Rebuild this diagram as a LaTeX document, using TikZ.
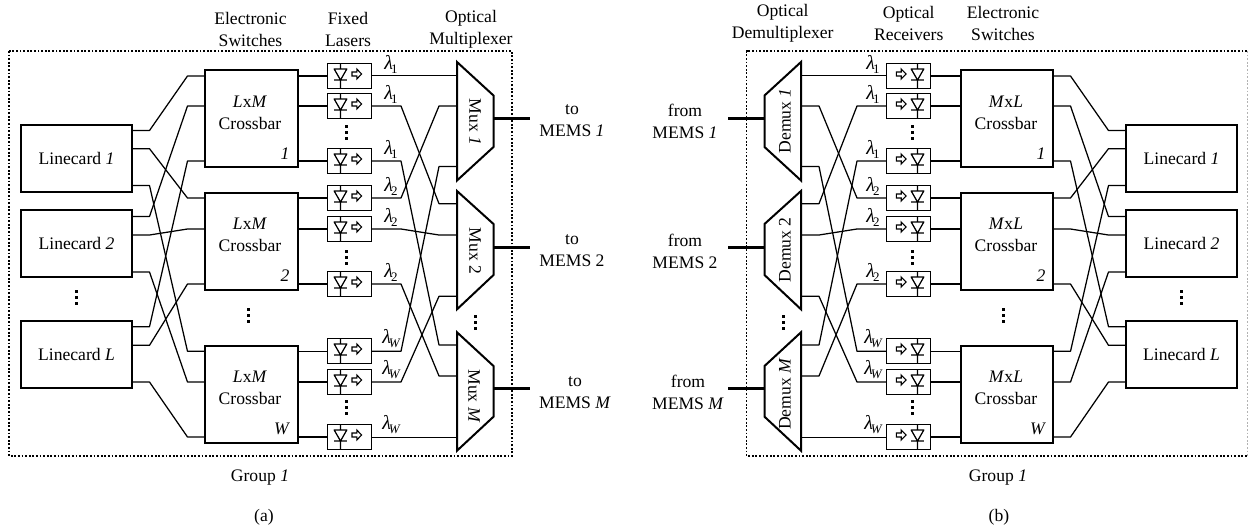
\documentclass[tikz,border=0pt]{standalone}
\usepackage{fontspec}
\setmainfont{Liberation Serif}
\tikzset{
  every node/.style={font=\fontsize{17.6}{22}\selectfont, inner sep=0pt, outer sep=0pt},
  txt/.style={align=center},
  wire/.style={line width=1.25pt, line join=round},
  cardbox/.style={draw, line width=2pt, minimum width=111pt, minimum height=67pt},
  xbarbox/.style={draw, line width=2pt, minimum width=92.5pt, minimum height=97.5pt},
  laserbox/.style={draw, line width=1.25pt, minimum width=44pt, minimum height=24.5pt},
  muxport/.style={minimum width=36.5pt, minimum height=118.5pt},
  muxshape/.style={draw, line width=2pt, line join=miter},
  stub/.style={line width=3pt},
  grp/.style={line width=1.8pt, dash pattern=on 1.8pt off 1.8pt},
  vdots/.style={line width=3pt, dash pattern=on 3pt off 3pt},
  lam/.style={font=\fontsize{20}{22}\selectfont}
}
\newcommand{\lamb}[1]{{\itshape λ}\kern-2pt\raisebox{-4pt}{\fontsize{13}{13}\selectfont #1}}
\newcommand{\lsr}[3]{% name, y, lambda subscript
  \node[laserbox] (#1) at (349.5,#2) {};
  \begin{scope}[shift={(340.5,#2)}]
    \draw[wire] (0,-12) -- (0,-7) (-6.3,-7) -- (6.3,-7) -- (0,4) -- cycle (-6.3,4) -- (6.3,4) (0,4) -- (0,12);
    \draw[line width=1.1pt] (16.3,-2) ++({\adir*-4.8},-2) -- ++({\adir*4.8},0) -- ++(0,-3) -- ++({\adir*4.8},5) -- ++({\adir*-4.8},5) -- ++(0,-3) -- ++({\adir*-4.8},0) -- cycle;
  \end{scope}
  \node[lam] at (\lamx,{#2-12}) {\lamb{#3}};
}
\newcommand{\wa}[4]{\draw[wire] (#1.\fw |- 0,#2) -- (149.5,#2) -- (187.5,#4) -- (#3.\bw |- 0,#4);}
\newcommand{\wb}[4]{\draw[wire] (#1.\fw |- 0,#2) -- (401,#2) -- (439,#4) -- (#3.\bw |- 0,#4);}
\newcommand{\mx}[6]{% name, top, bottom, right top, right bottom, stub y
  \node[muxport] (#1) at (475.25,{(#2+#3)/2}) {};
  \draw[muxshape] (457,#2) -- (493.5,#4) -- (493.5,#5) -- (457,#3) -- cycle;
  \coordinate (#1t) at (530,#6);
  \draw[stub] (#1.\fw |- 0,#6) -- (#1t);
}
\newcommand{\halfdiagram}[1]{%
  \node[cardbox] (#1c1) at (76.5,158.5) {\cardA};
  \node[cardbox] (#1c2) at (76.5,243.5) {\cardB};
  \node[cardbox] (#1c3) at (76.5,354.5) {\cardC};
  \node[xbarbox] (#1x1) at (251.25,118.25) {};
  \node[xbarbox] (#1x2) at (251.25,241.25) {};
  \node[xbarbox] (#1x3) at (251.25,394.25) {};
  \lsr{#1l1}{76}{1}\lsr{#1l2}{106}{1}\lsr{#1l3}{161}{1}
  \lsr{#1l4}{198}{2}\lsr{#1l5}{229}{2}\lsr{#1l6}{284}{2}
  \lsr{#1l7}{351}{\itshape W}\lsr{#1l8}{382}{\itshape W}\lsr{#1l9}{437}{\itshape W}
  \mx{#1m1}{62}{180.5}{95.5}{147}{118}
  \mx{#1m2}{191}{309.3}{224}{275}{247}
  \mx{#1m3}{332.3}{450.7}{366}{416.7}{388}
  % linecards to crossbars
  \wa{#1c1}{130.5}{#1x1}{76}
  \wa{#1c1}{148.7}{#1x2}{198}
  \wa{#1c1}{185.5}{#1x3}{351.3}
  \wa{#1c2}{216.5}{#1x1}{106}
  \wa{#1c2}{235}{#1x2}{229}
  \wa{#1c2}{272}{#1x3}{382}
  \wa{#1c3}{326.7}{#1x1}{161}
  \wa{#1c3}{345.3}{#1x2}{284}
  \wa{#1c3}{382}{#1x3}{437}
  % crossbars to lasers
  \draw[wire] (#1x1.\fw |- 0,76) -- (#1l1.\bw |- 0,76);
  \draw[wire] (#1x1.\fw |- 0,106) -- (#1l2.\bw |- 0,106);
  \draw[wire] (#1x1.\fw |- 0,161) -- (#1l3.\bw |- 0,161);
  \draw[wire] (#1x2.\fw |- 0,198) -- (#1l4.\bw |- 0,198);
  \draw[wire] (#1x2.\fw |- 0,229) -- (#1l5.\bw |- 0,229);
  \draw[wire] (#1x2.\fw |- 0,284) -- (#1l6.\bw |- 0,284);
  \draw[wire] (#1x3.\fw |- 0,351.3) -- (#1l7.\bw |- 0,351.3);
  \draw[wire] (#1x3.\fw |- 0,382) -- (#1l8.\bw |- 0,382);
  \draw[wire] (#1x3.\fw |- 0,437) -- (#1l9.\bw |- 0,437);
  % lasers to mux
  \draw[wire, line width=1pt] (#1l1.\fw |- 0,75.6) -- (#1m1.\bw |- 0,75.6);
  \wb{#1l2}{106}{#1m2}{203.7}
  \wb{#1l3}{161}{#1m3}{345}
  \wb{#1l4}{198}{#1m1}{106}
  \wb{#1l5}{229}{#1m2}{235}
  \wb{#1l6}{284}{#1m3}{376}
  \wb{#1l7}{351.3}{#1m1}{166.5}
  \wb{#1l8}{382}{#1m2}{296.3}
  \draw[wire, line width=1pt] (#1l9.\fw |- 0,437.4) -- (#1m3.\bw |- 0,437.4);
  % dots
  \coordinate (#1d1a) at (346,125); \coordinate (#1d1b) at (346,140);
  \coordinate (#1d2a) at (346,250); \coordinate (#1d2b) at (346,265);
  \coordinate (#1d3a) at (346,400); \coordinate (#1d3b) at (346,415);
  \draw[vdots] (#1d1a) -- (#1d1b);
  \draw[vdots] (#1d2a) -- (#1d2b);
  \draw[vdots] (#1d3a) -- (#1d3b);
}
\begin{document}
\begin{tikzpicture}[x=1pt,y=-1pt]
\useasboundingbox (0,0) rectangle (1248,525);
% ---------- left half (a)
\def\fw{east}\def\bw{west}\def\adir{1}\def\lamx{391}
\def\cardA{Linecard \textit{1}}\def\cardB{Linecard \textit{2}}\def\cardC{Linecard \textit{L}}
\halfdiagram{a}
\draw[grp] (9,51) rectangle (512,456);
% ---------- right half (b), mirrored geometry
\begin{scope}[xshift=1258pt,xscale=-1]
\def\fw{west}\def\bw{east}\def\adir{-1}\def\lamx{385}
\halfdiagram{b}
\end{scope}
\draw[grp] (1247,51) -- (746.5,51) -- (746.5,456) -- (1247,456);
\draw[line width=.7pt, gray!60, dash pattern=on 1.8pt off 1.8pt] (1247,51) -- (1247,456);
\foreach \xx/\yy in {76/290,248/308,475/315,783/315,1003.3/308,1181/290}{
  \draw[vdots] (\xx,\yy) -- (\xx,\yy+15);
}
% ---------- headings (a)
\node[txt] at (250.5,29) {Electronic\\Switches};
\node[txt] at (348,29) {Fixed\\Lasers};
\node[txt] at (471,29) {Optical\\Multiplexer};
% headings (b)
\node[txt] at (782.7,23) {Optical\\Demultiplexer};
\node[txt] at (908.7,23) {Optical\\Receivers};
\node[txt] at (1003,23) {Electronic\\Switches};
% crossbar texts (a)
\node[txt] at (250,112.5) {\textit{L}x\textit{M}\\Crossbar};
\node[txt] at (250,235) {\textit{L}x\textit{M}\\Crossbar};
\node[txt] at (250,388) {\textit{L}x\textit{M}\\Crossbar};
\node at (285,154) {\textit{1}};
\node at (285,276) {\textit{2}};
\node at (282,429) {\textit{W}};
% crossbar texts (b)
\node[txt] at (1006,112.5) {\textit{M}x\textit{L}\\Crossbar};
\node[txt] at (1006,235) {\textit{M}x\textit{L}\\Crossbar};
\node[txt] at (1006,388) {\textit{M}x\textit{L}\\Crossbar};
\node at (1041,154) {\textit{1}};
\node at (1041,276) {\textit{2}};
\node at (1038,429) {\textit{W}};
% mux texts
\node[rotate=-90] at (475,122) {Mux \textit{1}};
\node[rotate=-90] at (475,251) {Mux 2};
\node[rotate=-90] at (474,396) {Mux \textit{M}};
\node[rotate=90] at (785,121) {Demux \textit{1}};
\node[rotate=90] at (785,250) {Demux 2};
\node[rotate=90] at (785,394) {Demux \textit{M}};
% to / from
\node[txt] at (572,121) {to\\MEMS \textit{1}};
\node[txt] at (572,251) {to\\MEMS 2};
\node[txt] at (575,392.5) {to\\MEMS \textit{M}};
\node[txt] at (685,121) {from\\MEMS \textit{1}};
\node[txt] at (685,251) {from\\MEMS 2};
\node[txt] at (688,392.5) {from\\MEMS \textit{M}};
% group and captions
\node at (260,478) {Group \textit{1}};
\node at (264,517) {(a)};
\node at (998,478) {Group \textit{1}};
\node at (999,517) {(b)};
\end{tikzpicture}
\end{document}
